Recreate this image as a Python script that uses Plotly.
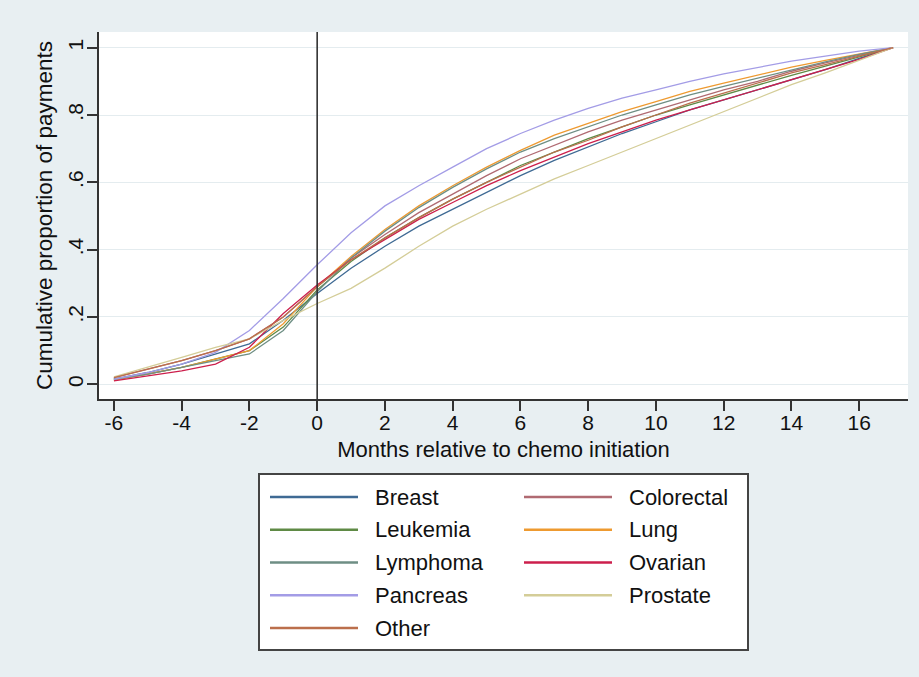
import plotly.graph_objects as go

# Months relative to chemotherapy start
months = list(range(-6, 18))

# Cumulative proportion of payments by cancer type (plot order)
series_names = ["Breast", "Colorectal", "Leukemia", "Lung", "Lymphoma",
                "Ovarian", "Pancreas", "Prostate", "Other"]

breast = [0.015, 0.035, 0.06, 0.09, 0.12, 0.19, 0.27, 0.345, 0.41, 0.47, 0.52, 0.57,
          0.62, 0.665, 0.705, 0.745, 0.78, 0.815, 0.845, 0.875, 0.905, 0.935, 0.968, 1.0]
colorectal = [0.02, 0.045, 0.07, 0.10, 0.135, 0.20, 0.29, 0.375, 0.445, 0.51, 0.565, 0.62,
              0.67, 0.71, 0.75, 0.785, 0.815, 0.845, 0.875, 0.90, 0.93, 0.955, 0.978, 1.0]
leukemia = [0.015, 0.03, 0.05, 0.075, 0.10, 0.17, 0.28, 0.365, 0.435, 0.495, 0.55, 0.60,
            0.65, 0.69, 0.73, 0.765, 0.80, 0.83, 0.86, 0.89, 0.918, 0.945, 0.972, 1.0]
lung = [0.012, 0.03, 0.05, 0.075, 0.10, 0.18, 0.29, 0.38, 0.46, 0.53, 0.59, 0.645,
        0.695, 0.74, 0.775, 0.81, 0.84, 0.87, 0.895, 0.918, 0.942, 0.962, 0.982, 1.0]
lymphoma = [0.015, 0.03, 0.05, 0.07, 0.09, 0.16, 0.275, 0.375, 0.455, 0.525, 0.585, 0.64,
            0.69, 0.73, 0.765, 0.80, 0.83, 0.86, 0.885, 0.91, 0.935, 0.958, 0.98, 1.0]
ovarian = [0.01, 0.025, 0.04, 0.06, 0.11, 0.21, 0.295, 0.37, 0.43, 0.49, 0.54, 0.59,
           0.635, 0.675, 0.715, 0.75, 0.785, 0.815, 0.845, 0.875, 0.905, 0.935, 0.965, 1.0]
pancreas = [0.015, 0.035, 0.06, 0.095, 0.16, 0.255, 0.355, 0.45, 0.53, 0.59, 0.645, 0.70,
            0.745, 0.785, 0.82, 0.85, 0.875, 0.90, 0.922, 0.942, 0.96, 0.975, 0.99, 1.0]
prostate = [0.022, 0.05, 0.08, 0.11, 0.135, 0.19, 0.24, 0.285, 0.345, 0.41, 0.47, 0.52,
            0.565, 0.61, 0.65, 0.69, 0.73, 0.77, 0.81, 0.85, 0.89, 0.925, 0.962, 1.0]
other = [0.02, 0.045, 0.07, 0.10, 0.135, 0.20, 0.29, 0.37, 0.435, 0.495, 0.55, 0.60,
         0.645, 0.69, 0.725, 0.765, 0.80, 0.835, 0.865, 0.895, 0.925, 0.95, 0.975, 1.0]

series_values = [breast, colorectal, leukemia, lung, lymphoma,
                 ovarian, pancreas, prostate, other]

series_colors = ["#3f6a94", "#b06a72", "#5f8a45", "#ee9a30", "#6e8e84",
                 "#cc1f4c", "#a39ce6", "#d4cd98", "#bb6f4c"]

y_tickvals = [0, 0.2, 0.4, 0.6, 0.8, 1]
y_ticktext = ["0", ".2", ".4", ".6", ".8", "1"]
x_tickvals = list(range(-6, 17, 2))
x_ticktext = [str(v) for v in x_tickvals]

W, H = 919, 677
ML, MR, MT, MB = 99, 11, 32, 278
PW, PH = W - ML - MR, H - MT - MB
FONT = "Liberation Sans, Arial, Helvetica, sans-serif"
BG = "#e8eff2"
AXIS = "#333333"


def px_x(px):
    return (px - ML) / PW


def px_y(py):
    return (H - MB - py) / PH


fig = go.Figure()
for name, vals, col in zip(series_names, series_values, series_colors):
    fig.add_trace(go.Scatter(x=months, y=vals, mode="lines", name=name,
                             line=dict(color=col, width=1.3), showlegend=False))

# Vertical reference line at chemo initiation
fig.add_shape(type="line", xref="x", yref="paper", x0=0, x1=0, y0=0, y1=1,
              line=dict(color=AXIS, width=1.6), layer="above")

# Legend box: two columns, filled row by row
box = dict(x0=259, x1=748, y0=474, y1=650)
fig.add_shape(type="rect", xref="paper", yref="paper",
              x0=px_x(box["x0"]), x1=px_x(box["x1"]),
              y0=px_y(box["y1"]), y1=px_y(box["y0"]),
              line=dict(color="#444444", width=2), fillcolor="white")
col_swatch = [(270, 358), (524, 612)]
col_text = [373, 627]
row_y0, row_dy = 497, 32.75
order_by_column = [["Breast", "Leukemia", "Lymphoma", "Pancreas", "Other"],
                   ["Colorectal", "Lung", "Ovarian", "Prostate"]]
for c, names in enumerate(order_by_column):
    for r, nm in enumerate(names):
        col = series_colors[series_names.index(nm)]
        yy = px_y(row_y0 + r * row_dy)
        fig.add_shape(type="line", xref="paper", yref="paper",
                      x0=px_x(col_swatch[c][0]), x1=px_x(col_swatch[c][1]),
                      y0=yy, y1=yy, line=dict(color=col, width=2.5))
        fig.add_annotation(xref="paper", yref="paper", x=px_x(col_text[c]), y=yy,
                           text=nm, showarrow=False, xanchor="left", yanchor="middle",
                           font=dict(family=FONT, size=22, color="#111111"))

fig.update_layout(
    width=W, height=H,
    margin=dict(l=ML, r=MR, t=MT, b=MB, autoexpand=False),
    paper_bgcolor=BG, plot_bgcolor="white",
    font=dict(family=FONT, size=21, color="#111111"),
    showlegend=False,
)
fig.update_xaxes(
    range=[-6.44, 17.44], tickvals=x_tickvals, ticktext=x_ticktext,
    showgrid=False, zeroline=False,
    showline=True, linecolor=AXIS, linewidth=1.6,
    ticks="outside", ticklen=10, tickwidth=1.6, tickcolor=AXIS,
    tickfont=dict(size=21), automargin=False, ticklabelstandoff=-6,
    title=dict(text="Months relative to chemo initiation", font=dict(size=22), standoff=9),
)
fig.update_yaxes(
    range=[-0.0437, 1.0466], tickvals=y_tickvals, ticktext=y_ticktext, tickangle=-90,
    showgrid=True, gridcolor="#e4ecef", gridwidth=1, zeroline=False,
    showline=True, linecolor=AXIS, linewidth=1.6,
    ticks="outside", ticklen=10, tickwidth=1.6, tickcolor=AXIS,
    tickfont=dict(size=21), automargin=False, ticklabelstandoff=-4,
    title=dict(text="Cumulative proportion of payments", font=dict(size=22.5), standoff=5),
)

fig.write_html("out.html")
